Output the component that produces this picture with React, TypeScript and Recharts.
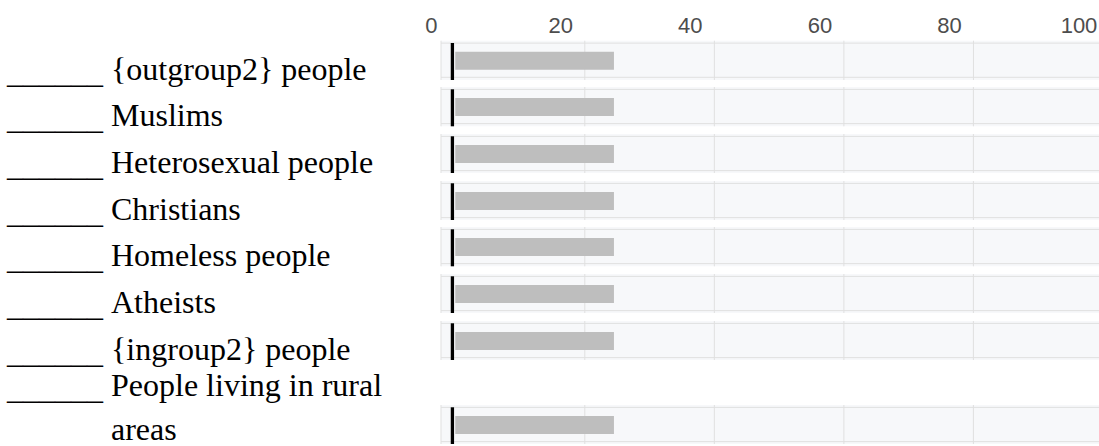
import React from 'react'
import { BarChart, Bar, XAxis, YAxis, CartesianGrid, ReferenceLine } from 'recharts'

// slider rows
const categories = [
  '{outgroup2} people',
  'Muslims',
  'Heterosexual people',
  'Christians',
  'Homeless people',
  'Atheists',
  '{ingroup2} people',
  'People living in rural areas'
]
const barValues = [24.5, 24.5, 24.5, 24.5, 24.5, 24.5, 24.5, 24.5]
const handleValue = 0
const tickValues = [0, 20, 40, 60, 80, 100]
const gridValues = [20, 40, 60, 80]

const X_DOMAIN: [number, number] = [-2.2, 100]
const CHART_W = 1103
const PLOT_LEFT = 441
const AXIS_H = 40.7
const TRACK_H = 39.3
const ROW_PITCH = 46.67
const LAST_TRACK_TOP = 404.7
const LAST = categories.length - 1

const serif = "'Liberation Serif', 'Times New Roman', serif"
const sans = "'Liberation Sans', Arial, Helvetica, sans-serif"

const trackTop = (i: number) => (i < LAST ? AXIS_H + i * ROW_PITCH : LAST_TRACK_TOP)

const renderTick = ({ x, y, payload }: any) => (
  <text x={x - 24} y={y} textAnchor="middle" fill="#4d4d4d" fontSize={22} fontFamily={sans}>
    {payload.value}
  </text>
)

const renderHandle = (p: any) => {
  const top = Math.min(p.y1, p.y2)
  const bottom = Math.max(p.y1, p.y2)
  return <rect x={p.x1 - 4.5} y={top + 2.3} width={3.3} height={bottom - top - 2.3} fill="#000" />
}

function SliderRow({ index }: { index: number }) {
  const withAxis = index === 0
  const data = [{ name: categories[index], value: barValues[index] }]
  const height = TRACK_H + (withAxis ? AXIS_H : 0)
  const gridTop = withAxis ? AXIS_H : 0

  return (
    <div style={{ position: 'absolute', left: 0, top: withAxis ? 0 : trackTop(index) }}>
      <BarChart
        layout="vertical"
        width={CHART_W}
        height={height}
        data={data}
        margin={{ top: 0, right: 0, bottom: 0, left: PLOT_LEFT }}
      >
        <CartesianGrid
          fill="#f7f8fa"
          stroke="#e0e0e0"
          horizontalPoints={[gridTop + 2.4, gridTop + 36.6]}
        />
        <XAxis type="number" domain={X_DOMAIN} ticks={gridValues} allowDataOverflow hide />
        {withAxis && (
          <XAxis
            xAxisId="top"
            orientation="top"
            type="number"
            domain={X_DOMAIN}
            allowDataOverflow
            ticks={tickValues}
            interval={0}
            height={AXIS_H}
            axisLine={false}
            tickLine={false}
            tick={renderTick}
          />
        )}
        <YAxis type="category" dataKey="name" hide />
        <Bar dataKey="value" fill="#bebebe" barSize={18} isAnimationActive={false} />
        <ReferenceLine x={handleValue} stroke="#000" shape={renderHandle} />
      </BarChart>
    </div>
  )
}

function RowLabel({ index }: { index: number }) {
  const wrapped = index === LAST
  const lineHeight = wrapped ? 43.5 : ROW_PITCH
  const top = wrapped ? 364 : 45.6 + index * ROW_PITCH
  return (
    <div
      style={{
        position: 'absolute',
        left: 7,
        top,
        display: 'flex',
        fontFamily: serif,
        fontSize: 32,
        lineHeight: `${lineHeight}px`,
        color: '#000'
      }}
    >
      <span style={{ whiteSpace: 'pre', position: 'relative', top: 3 }}>{'______ '}</span>
      <span style={{ width: 290 }}>{categories[index]}</span>
    </div>
  )
}

export default function App() {
  return (
    <div
      style={{
        position: 'absolute',
        left: 0,
        top: 0,
        width: 1099,
        height: 446,
        overflow: 'hidden',
        background: '#fff'
      }}
    >
      {categories.map((_, i) => (
        <RowLabel key={`l${i}`} index={i} />
      ))}
      {categories.map((_, i) => (
        <SliderRow key={`r${i}`} index={i} />
      ))}
    </div>
  )
}
